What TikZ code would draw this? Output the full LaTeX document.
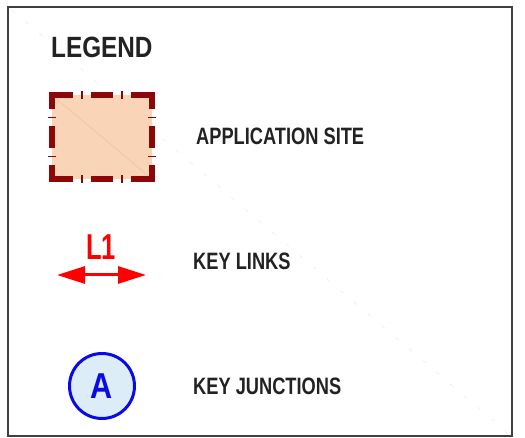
\documentclass[tikz,border=0pt]{standalone}
\usepackage{fontspec}
\setmainfont{Liberation Sans}
\usetikzlibrary{arrows.meta,positioning}
\definecolor{siteedge}{RGB}{140,8,8}
\definecolor{sitefill}{RGB}{250,212,182}
\definecolor{junctionfill}{RGB}{220,237,248}
\definecolor{junctionedge}{RGB}{10,10,230}
\definecolor{legendtext}{RGB}{34,34,34}
\newcommand{\narrow}[2]{\scalebox{#1}[1]{#2}}

\begin{document}
\begin{tikzpicture}[x=1pt, y=-1pt,
    heading/.style={anchor=base west, inner sep=0pt, text=legendtext, font=\bfseries\fontsize{29.3}{30}\selectfont},
    legendlabel/.style={anchor=base west, inner sep=0pt, text=legendtext, font=\bfseries\fontsize{23.7}{24}\selectfont},
    site/.style={rectangle, fill=sitefill, minimum width=100pt, minimum height=84pt, inner sep=0pt},
    siteside/.style={draw=siteedge, line width=6pt, line cap=rect},
    sitetick/.style={draw=siteedge, line width=1.1pt},
    linklabel/.style={anchor=base west, inner sep=0pt, text=red, font=\bfseries\fontsize{36}{36}\selectfont},
    keylink/.style={draw=red, line width=3pt, {Triangle[length=28pt, width=17pt]}-{Triangle[length=28pt, width=17pt]}},
    junction/.style={circle, draw=junctionedge, line width=3pt, fill=junctionfill, minimum size=65pt, inner sep=0pt, text=junctionedge, font=\bfseries\fontsize{36}{36}\selectfont}]
    \useasboundingbox (0,0) rectangle (525,438);
    \draw[line width=2pt, draw=black!75] (8,7) rectangle (512,436);
    \draw[gray!18, line width=0.5pt, dash pattern=on 4pt off 14pt] (12,10) -- (510,435);

    \node[heading] (legend) at (51,58) {\narrow{0.83}{LEGEND}};

    % application site
    \node[site] (site) at (102,137) {};
    \draw[sitefill!70!brown!80, line width=0.8pt] (site.north west) -- (site.south east);
    \draw[siteside, dash pattern=on 18pt off 24pt on 16pt off 24pt on 18pt off 0pt] (site.north west) -- (site.north east);
    \draw[siteside, dash pattern=on 18pt off 24pt on 16pt off 24pt on 18pt off 0pt] (site.south west) -- (site.south east);
    \draw[siteside, dash pattern=on 11pt off 23pt on 16pt off 23pt on 11pt off 0pt] (site.north west) -- (site.south west);
    \draw[siteside, dash pattern=on 11pt off 23pt on 16pt off 23pt on 11pt off 0pt] (site.north east) -- (site.south east);
    \foreach \x in {82,122} {
        \draw[sitetick] (\x,91) -- (\x,99);
        \draw[sitetick] (\x,175) -- (\x,183);
    }
    \foreach \y in {117.5,156.5} {
        \draw[sitetick] (48,\y) -- (56,\y);
        \draw[sitetick] (148,\y) -- (156,\y);
    }
    \node[legendlabel] (sitetext) at (196,145) {\narrow{0.77}{APPLICATION SITE}};

    % key links
    \node[linklabel] (l1) at (86,260) {\narrow{0.71}{L1}};
    \coordinate (l1w) at (57,275);
    \coordinate (l1e) at (146,275);
    \draw[keylink] (l1w) -- (l1e);
    \node[legendlabel] (linktext) at (193,270) {\narrow{0.77}{KEY LINKS}};

    % key junctions
    \node[junction] (a) at (102,386) {\narrow{0.85}{A}};
    \node[legendlabel] (junctiontext) at (193,395) {\narrow{0.77}{KEY JUNCTIONS}};
\end{tikzpicture}
\end{document}
